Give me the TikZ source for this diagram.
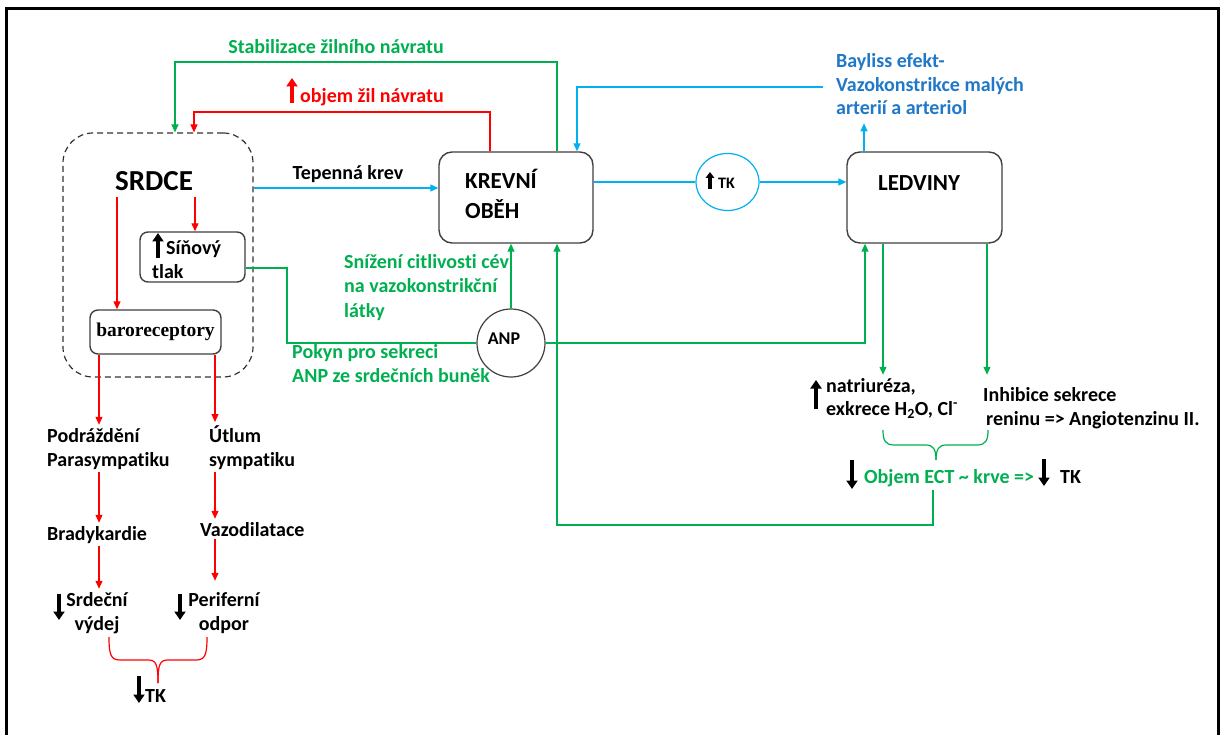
\documentclass[tikz,border=0pt]{standalone}
\usepackage{fontspec}
\setmainfont{Carlito}[Ligatures=NoCommon]
\newfontfamily\serifbold{Liberation Serif}
\usetikzlibrary{arrows.meta,shapes.geometric,calc}

\definecolor{ogreen}{RGB}{0,176,80}
\definecolor{ored}{RGB}{255,0,0}
\definecolor{oblue}{RGB}{0,176,240}
\definecolor{tblue}{RGB}{31,120,200}
\definecolor{boxline}{RGB}{64,64,64}

\begin{document}
\begin{tikzpicture}[x=1pt,y=-1pt,
  tip/.style={-{Triangle[length=8pt,width=7pt]}},
  gline/.style={draw=ogreen,line width=1.2pt},
  garr/.style={gline,tip},
  rline/.style={draw=ored,line width=1.2pt},
  rarr/.style={rline,tip},
  barr/.style={draw=oblue,line width=1.2pt,tip},
  box/.style={draw=boxline,line width=1.4pt,rounded corners=13pt,fill=white,inner sep=0pt},
  lbl/.style={font=\bfseries\fontsize{20}{24}\selectfont,inner sep=3pt,align=left},
  blk/.style={line width=4.6pt,-{Triangle[length=8.5pt,width=11pt]}},
  blks/.style={line width=3.6pt,-{Triangle[length=6pt,width=8.5pt]}},
]
\useasboundingbox (0,0) rectangle (1220,735);
\fill[white] (0,0) rectangle (1220,735);

% outer frame
\draw[line width=3pt] (6,750) -- (6,9) -- (1218,9) -- (1218,750);

% ---- heart block ----
\node[draw=boxline!80!black,line width=1.2pt,dash pattern=on 6pt off 4pt,rounded corners=30pt,
      minimum width=190pt,minimum height=244pt,inner sep=0pt] (heart) at (158,255) {};
\node[font=\bfseries\fontsize{29}{34}\selectfont,inner sep=6pt,anchor=base] (srdceTxt) at (154,191) {SRDCE};

\node[box,rounded corners=8pt,minimum width=105pt,minimum height=50pt] (sin) at (192.5,257) {};
\node[lbl,inner sep=0pt,anchor=base west] (sinTxt) at (152,278) {\hspace*{14pt}Síňový\\tlak};
\draw[blk] (158,258) -- (158,233);

\node[box,rounded corners=8pt,minimum width=131pt,minimum height=44pt,
      font=\serifbold\bfseries\fontsize{19.5}{22}\selectfont] (baro) at (155.5,332) {baroreceptory};

% ---- main blocks ----
\node[box,minimum width=154pt,minimum height=91pt] (krev) at (516,197.5) {};
\node[font=\bfseries\fontsize{23}{30}\selectfont,align=left,anchor=base west,inner sep=0pt] (krevTxt) at (465,219) {KREVNÍ\\OBĚH};

\node[ellipse,draw=oblue,line width=1.2pt,minimum width=63pt,minimum height=57pt,inner sep=0pt] (tk) at (727.5,182) {};
\node[font=\bfseries\fontsize{16}{18}\selectfont,anchor=base west,inner sep=0pt] (tkTxt) at (718,189) {TK};
\draw[blks] (710,189) -- (710,172);

\node[box,minimum width=155pt,minimum height=91pt] (led) at (924.5,197.5) {};
\node[font=\bfseries\fontsize{23}{28}\selectfont,anchor=base,inner sep=0pt] (ledTxt) at (919,191) {LEDVINY};

\node[circle,draw=boxline,line width=1.2pt,minimum size=68pt,inner sep=0pt] (anp) at (511,343) {};
\node[font=\bfseries\fontsize{18}{20}\selectfont,inner sep=0pt] (anpTxt) at (504,339) {ANP};

% ---- labels ----
\node[lbl,text=ogreen,anchor=base] (stab) at (336,54) {Stabilizace žilního návratu};
\node[lbl,text=ored,anchor=base west,inner sep=0pt] (objem) at (300,103) {objem žil návratu};
\draw[blk,ored] (292,103) -- (292,78);
\node[lbl,anchor=base] (tep) at (348,180) {Tepenná krev};
\node[lbl,text=tblue,anchor=base west,inner sep=0pt,font=\bfseries\fontsize{20}{23.5}\selectfont] (bay) at (836,115)
  {Bayliss efekt-\\Vazokonstrikce malých\\arterií a arteriol};
\node[lbl,text=ogreen,anchor=base west,inner sep=0pt,font=\bfseries\fontsize{20}{24.5}\selectfont] (sniz) at (344,317)
  {Snížení citlivosti cév\\na vazokonstrikční\\látky};
\node[lbl,text=ogreen,anchor=base west,inner sep=0pt] (pokyn) at (292,382)
  {Pokyn pro sekreci\\ANP ze srdečních buněk};

\node[lbl,anchor=base west,font=\bfseries\fontsize{20}{23}\selectfont] (natri) at (823,415)
  {natriuréza,\\exkrece H\textsubscript{2}O, Cl\textsuperscript{-}};
\draw[blk] (816,409) -- (816,380);
\node[lbl,anchor=base west] (inhib) at (980,425) {Inhibice sekrece\\\hspace*{3pt}reninu => Angiotenzinu II.};

\node[lbl,text=ogreen,anchor=base west] (ect) at (861,483) {Objem ECT \textasciitilde{} krve =>};
\node[lbl,anchor=base west] (ectTK) at (1057,483) {TK};
\draw[blk] (852,460) -- (852,489);
\draw[blk] (1044,459) -- (1044,486);

\node[lbl,anchor=base west] (podr) at (44,466) {Podráždění\\Parasympatiku};
\node[lbl,anchor=base west] (utlum) at (206,466) {Útlum\\sympatiku};
\node[lbl,anchor=base west] (brady) at (44,540) {Bradykardie};
\node[lbl,anchor=base west] (vazo) at (197,536) {Vazodilatace};
\node[lbl,align=center,anchor=base] (srdv) at (97,630) {Srdeční\\výdej};
\node[lbl,align=center,anchor=base] (perif) at (224,630) {Periferní\\odpor};
\draw[blk] (59,594) -- (59,620);
\draw[blk] (180,594) -- (180,620);
\node[lbl,anchor=base west,inner sep=0pt] (tkL) at (145,702) {TK};
\draw[blk] (139,676) -- (139,703);

% ---- routing points ----
\coordinate (xStab) at (557,62);
\coordinate (xStabL) at (175,62);
\coordinate (xObj) at (490,112);
\coordinate (xObjL) at (194,112);
\coordinate (bayTurn) at (577,87);
\coordinate (bayEnd) at ($(bay.west |- bayTurn)+(-13,0)$);
\coordinate (ledUp) at (864,0);
\coordinate (tepY) at (0,188);
\coordinate (cA) at (117,0);
\coordinate (cB) at (195,0);
\coordinate (pokTurn) at (287,268);
\coordinate (ledIn) at (865,0);
\coordinate (cN) at (883,0);
\coordinate (cI) at (987,0);
\coordinate (retBot) at (933,525);
\coordinate (cL) at (99,0);
\coordinate (cR) at (215,0);

% ---- connectors ----
\draw[garr] (krev.north -| xStab) -- (xStab) -- (xStabL) -- (heart.north -| xStabL);
\draw[rarr] (krev.north -| xObj) -- (xObj) -- (xObjL) -- (heart.north -| xObjL);
\draw[barr] (bayEnd) -- (bayTurn) -- (krev.north -| bayTurn);
\draw[barr] (led.north -| ledUp) -- ($(bay.south -| ledUp)+(0,8)$);
\draw[barr] (heart.east |- tepY) -- (krev.west |- tepY);
\draw[draw=oblue,line width=1.2pt] (krev.east |- tk.west) -- (tk.west);
\draw[barr] (tk.east) -- (led.west |- tk.east);

\draw[rarr] (srdceTxt.south -| cA) -- (baro.north -| cA);
\draw[rarr] (srdceTxt.south -| cB) -- (sin.north -| cB);

\draw[gline] (sin.east |- pokTurn) -- (pokTurn) |- (anp.west);
\draw[garr] (anp.north) -- (krev.south -| anp.north);
\draw[garr] (anp.east) -| (led.south -| ledIn);
\draw[garr] (led.south -| cN) -- (natri.north -| cN);
\draw[garr] (led.south -| cI) -- ($(inhib.north -| cI)+(0,-9)$);
\draw[garr] (ect.south -| retBot) -- (retBot) -| (krev.south -| xStab);

\draw[rarr] (baro.south -| cL) -- (podr.north -| cL);
\draw[rarr] (baro.south -| cR) -- (utlum.north -| cR);
\draw[rarr] (podr.south -| cL) -- (brady.north -| cL);
\draw[rarr] (utlum.south -| cR) -- (vazo.north -| cR);
\draw[rarr] (brady.south -| cL) -- (srdv.north -| cL);
\draw[rarr] (vazo.south -| cR) -- ($(perif.north -| cR)+(0,-8)$);

% ---- braces ----
\draw[rline] (109,637) .. controls (109,655) and (111,660) .. (120,660) -- (148,660)
  .. controls (156,660) and (158,664) .. (158,683);
\draw[rline] (207,637) .. controls (207,655) and (205,660) .. (196,660) -- (168,660)
  .. controls (160,660) and (158,664) .. (158,683);
\draw[gline] (883,430) .. controls (883,440) and (885,445) .. (894,445) -- (926,445)
  .. controls (933,445) and (936,449) .. (936,460);
\draw[gline] (988,430) .. controls (988,440) and (986,445) .. (977,445) -- (946,445)
  .. controls (939,445) and (936,449) .. (936,460);
\end{tikzpicture}
\end{document}
